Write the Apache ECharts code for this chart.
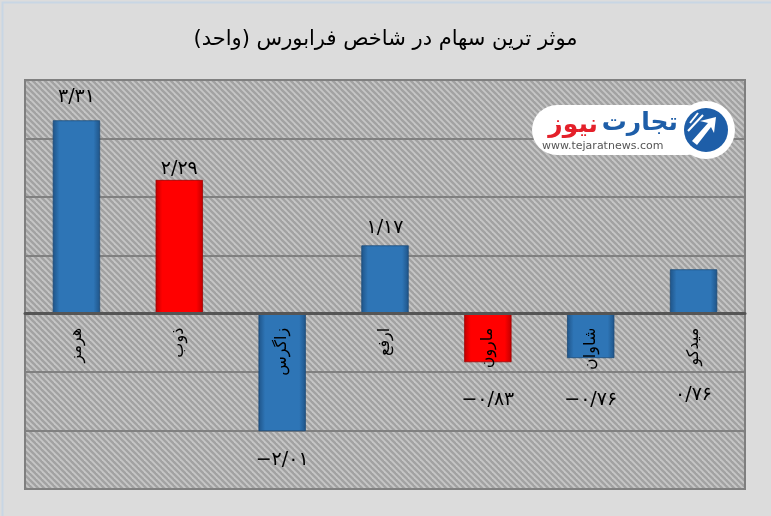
<!DOCTYPE html>
<html>
<head>
<meta charset="utf-8">
<script src="https://cdn.jsdelivr.net/npm/echarts@6/dist/echarts.min.js"></script>
<style>
html,body{margin:0;padding:0;background:#dcdcdc;}
#c{width:771px;height:516px;}
</style>
</head>
<body>
<div id="c"></div>
<script>
// ---- data ----
const titleText = 'موثر ترین سهام در شاخص فرابورس (واحد)';
const categories = ['هرمز', 'ذوب', 'زاگرس', 'ارفع', 'مارون', 'شاوان', 'میدکو'];
const values = [3.31, 2.29, -2.01, 1.17, -0.83, -0.76, 0.76];
const yMin = -3, yMax = 4, yInterval = 1;

// ---- styling (kept separate from data) ----
const barKind = ['blue', 'red', 'blue', 'blue', 'red', 'blue', 'blue'];
const labelPos = ['top', 'top', 'bottom', 'top', 'bottom', 'bottom', 'bottom'];
const labelDist = [14, 1, 19, 8, 28, 32, 72];
const FONT = '"DejaVu Sans", sans-serif';

function toFa(v) {
  const s = Math.abs(v).toFixed(2).replace('.', '/');
  const fa = s.replace(/[0-9]/g, d => '۰۱۲۳۴۵۶۷۸۹'[+d]);
  return (v < 0 ? '−' : '') + fa;
}

function barFill(kind) {
  const main = kind === 'red' ? '#ff0000' : '#2e75b6';
  const edge = kind === 'red' ? '#c00000' : '#1f5488';
  return new echarts.graphic.LinearGradient(0, 0, 1, 0, [
    {offset: 0, color: edge}, {offset: 0.14, color: main},
    {offset: 0.86, color: main}, {offset: 1, color: edge}
  ]);
}

// stripe pattern for plot background
const pc = document.createElement('canvas');
pc.width = 6; pc.height = 6;
const px = pc.getContext('2d');
px.fillStyle = '#c6c6c6';
px.fillRect(0, 0, 6, 6);
px.strokeStyle = '#a2a2a2';
px.lineWidth = 2.4;
[[-6, 0, 6, 12], [-1, -1, 7, 7], [0, -6, 12, 6]].forEach(l => {
  px.beginPath(); px.moveTo(l[0], l[1]); px.lineTo(l[2], l[3]); px.stroke();
});

const chart = echarts.init(document.getElementById('c'), null, {renderer: 'canvas'});

const seriesData = values.map((v, i) => ({
  value: v,
  itemStyle: {color: barFill(barKind[i]), borderColor: barKind[i] === 'red' ? '#a00000' : '#1a4a78', borderWidth: 0.8},
  label: {position: labelPos[i], distance: labelDist[i]}
}));

const Z = 60;
chart.setOption({
  backgroundColor: '#dcdcdc',
  animation: false,
  title: {
    text: titleText,
    left: 'center',
    top: 24,
    textStyle: {fontFamily: FONT, fontSize: 21, fontWeight: 'normal', color: '#000'}
  },
  grid: {
    left: 25, right: 26, top: 80, bottom: 27,
    containLabel: false,
    outerBoundsMode: 'none',
    show: true,
    backgroundColor: {image: pc, repeat: 'repeat'},
    borderColor: '#7f7f7f',
    borderWidth: 2
  },
  xAxis: {
    type: 'category',
    data: categories,
    z: 10,
    axisLine: {onZero: true, lineStyle: {color: '#555555', width: 3}},
    axisTick: {show: false},
    axisLabel: {show: false},
    splitLine: {show: false}
  },
  yAxis: {
    type: 'value',
    min: yMin, max: yMax, interval: yInterval,
    axisLabel: {show: false},
    axisLine: {show: false},
    axisTick: {show: false},
    splitLine: {lineStyle: {color: '#808080', width: 2}}
  },
  series: [{
    type: 'bar',
    data: seriesData,
    barWidth: '46%',
    label: {
      show: true,
      fontFamily: FONT,
      fontSize: 19,
      color: '#000',
      formatter: p => toFa(p.value)
    }
  }, {
    // category names, hanging below the zero line
    type: 'bar',
    data: categories.map(() => 0),
    barWidth: '46%',
    barGap: '-100%',
    silent: true,
    z: 5,
    itemStyle: {color: 'rgba(0,0,0,0)'},
    label: {
      show: true,
      position: 'bottom',
      distance: 14,
      rotate: 90,
      align: 'right',
      verticalAlign: 'middle',
      fontFamily: FONT,
      fontSize: 16,
      color: '#000',
      formatter: p => categories[p.dataIndex]
    }
  }],
  graphic: [
    {type: 'rect', left: 0, top: 0, silent: true, z: 100,
      shape: {width: 770, height: 515},
      style: {fill: 'none', stroke: '#c8d6e4', lineWidth: 2}},
    // logo watermark
    {type: 'rect', z: Z, shape: {x: 532, y: 105, width: 180, height: 50, r: 25}, style: {fill: '#ffffff'}},
    {type: 'circle', z: Z, shape: {cx: 706, cy: 130, r: 29}, style: {fill: '#ffffff'}},
    {type: 'circle', z: Z, shape: {cx: 706, cy: 130, r: 22}, style: {fill: '#1e5ea8'}},
    {type: 'polygon', z: Z, shape: {points: [[692, 141], [708, 123], [700, 121], [716, 117], [714, 133], [711, 127], [697, 145]]}, style: {fill: '#ffffff'}},
    {type: 'line', z: Z, shape: {x1: 688, y1: 131, x2: 703, y2: 115}, style: {stroke: '#ffffff', lineWidth: 2}},
    {type: 'line', z: Z, shape: {x1: 690, y1: 123, x2: 698, y2: 113}, style: {stroke: '#ffffff', lineWidth: 2}},
    {type: 'text', z: Z, style: {text: 'تجارت', x: 678, y: 123, align: 'right', verticalAlign: 'middle', fill: '#1e5ea8', font: 'bold 25px ' + FONT}},
    {type: 'text', z: Z, style: {text: 'نیوز', x: 598, y: 125, align: 'right', verticalAlign: 'middle', fill: '#e4202a', font: 'bold 25px ' + FONT}},
    {type: 'text', z: Z, style: {text: 'www.tejaratnews.com', x: 542, y: 146, align: 'left', verticalAlign: 'middle', fill: '#555555', font: '11px ' + FONT}}
  ]
});
</script>
</body>
</html>
